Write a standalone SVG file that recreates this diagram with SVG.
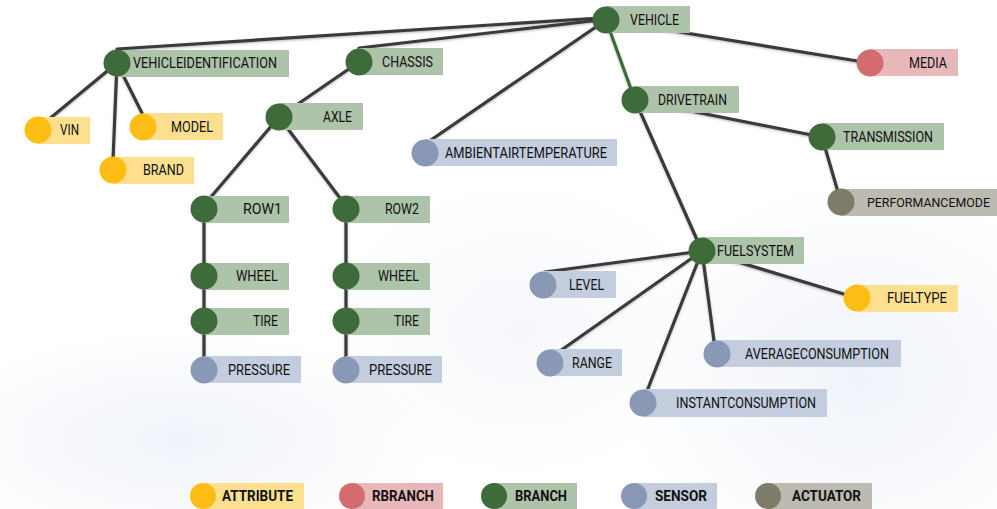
<svg xmlns="http://www.w3.org/2000/svg" width="997" height="509" viewBox="0 0 997 509">
<defs>
<radialGradient id="bg1" cx="0.5" cy="0.5" r="0.5">
<stop offset="0" stop-color="#eef2f9" stop-opacity="0.9"/>
<stop offset="1" stop-color="#eef2f9" stop-opacity="0"/>
</radialGradient>
<filter id="sh" x="-5%" y="-5%" width="110%" height="110%">
<feDropShadow dx="0" dy="1.2" stdDeviation="0.9" flood-color="#000" flood-opacity="0.25"/>
</filter>
<style>
.e{stroke:#3a3a3a;stroke-width:3.2;fill:none;stroke-linecap:round}
.eg{stroke:#3d6b3a;stroke-width:3.2;fill:none;stroke-linecap:round}
.t{font-family:Roboto,"Liberation Sans",sans-serif;font-size:14px;fill:#111}
.lt{font-family:Roboto,"Liberation Sans",sans-serif;font-size:14px;font-weight:bold;fill:#111}
.br circle{fill:#3d6b3a}.br rect{fill:#adc3aa}
.at circle{fill:#fdbd14}.at rect{fill:#fde08f}
.rb circle{fill:#d36c6e}.rb rect{fill:#e8b7b9}
.se circle{fill:#8898b5}.se rect{fill:#c3cddd}
.ac circle{fill:#7e7b69}.ac rect{fill:#bdbbb1}
</style>
</defs>
<rect width="997" height="509" fill="#ffffff"/>
<ellipse cx="180" cy="440" rx="260" ry="110" fill="url(#bg1)"/>
<ellipse cx="860" cy="380" rx="240" ry="200" fill="url(#bg1)"/>
<ellipse cx="520" cy="330" rx="200" ry="150" fill="url(#bg1)" opacity="0.6"/>

<g id="connectors" filter="url(#sh)">
<line class="e" x1="600" y1="18" x2="117" y2="49"/>
<line class="e" x1="600" y1="20" x2="359" y2="48"/>
<line class="e" x1="606" y1="20" x2="428" y2="142"/>
<line class="e" x1="606" y1="20" x2="870" y2="63"/>
<line class="eg" x1="606" y1="20" x2="635" y2="100"/>
<line class="e" x1="117" y1="63" x2="48" y2="120"/>
<line class="e" x1="117" y1="63" x2="113" y2="160"/>
<line class="e" x1="117" y1="63" x2="143" y2="115"/>
<line class="e" x1="359" y1="62" x2="279" y2="117"/>
<line class="e" x1="279" y1="117" x2="210" y2="198"/>
<line class="e" x1="279" y1="117" x2="340" y2="198"/>
<line class="e" x1="204" y1="209" x2="204" y2="370"/>
<line class="e" x1="346" y1="209" x2="346" y2="370"/>
<line class="e" x1="635" y1="100" x2="822" y2="137"/>
<line class="e" x1="635" y1="100" x2="702" y2="251"/>
<line class="e" x1="822" y1="137" x2="838" y2="192"/>
<line class="e" x1="702" y1="251" x2="545" y2="272"/>
<line class="e" x1="702" y1="251" x2="560" y2="351"/>
<line class="e" x1="702" y1="251" x2="647" y2="391"/>
<line class="e" x1="702" y1="251" x2="714" y2="341"/>
<line class="e" x1="702" y1="251" x2="857" y2="298"/>
</g>

<g id="n-vehicle" class="br"><rect x="606" y="6" width="84" height="27"/><circle cx="606" cy="20" r="13.5"/><text class="t" x="630" y="25" textLength="49" lengthAdjust="spacingAndGlyphs">VEHICLE</text></g>
<g id="n-vehicleidentification" class="br"><rect x="117" y="50" width="172" height="27"/><circle cx="117" cy="63" r="13.5"/><text class="t" x="133" y="68" textLength="144" lengthAdjust="spacingAndGlyphs">VEHICLEIDENTIFICATION</text></g>
<g id="n-chassis" class="br"><rect x="359" y="48" width="84" height="27"/><circle cx="359" cy="62" r="13.5"/><text class="t" x="382" y="67" textLength="51" lengthAdjust="spacingAndGlyphs">CHASSIS</text></g>
<g id="n-axle" class="br"><rect x="279" y="103" width="84" height="27"/><circle cx="279" cy="117" r="13.5"/><text class="t" x="323" y="122" textLength="29" lengthAdjust="spacingAndGlyphs">AXLE</text></g>
<g id="n-row1" class="br"><rect x="204" y="196" width="85" height="27"/><circle cx="204" cy="209" r="13.5"/><text class="t" x="243" y="214" textLength="39" lengthAdjust="spacingAndGlyphs">ROW1</text></g>
<g id="n-wheel1" class="br"><rect x="204" y="263" width="85" height="27"/><circle cx="204" cy="276" r="13.5"/><text class="t" x="236" y="281" textLength="42" lengthAdjust="spacingAndGlyphs">WHEEL</text></g>
<g id="n-tire1" class="br"><rect x="204" y="308" width="85" height="27"/><circle cx="204" cy="321" r="13.5"/><text class="t" x="253" y="326" textLength="25" lengthAdjust="spacingAndGlyphs">TIRE</text></g>
<g id="n-pressure1" class="se"><rect x="204" y="356" width="97" height="27"/><circle cx="204" cy="370" r="13.5"/><text class="t" x="228" y="375" textLength="62" lengthAdjust="spacingAndGlyphs">PRESSURE</text></g>
<g id="n-row2" class="br"><rect x="346" y="196" width="84" height="27"/><circle cx="346" cy="209" r="13.5"/><text class="t" x="385" y="214" textLength="34" lengthAdjust="spacingAndGlyphs">ROW2</text></g>
<g id="n-wheel2" class="br"><rect x="346" y="263" width="84" height="27"/><circle cx="346" cy="276" r="13.5"/><text class="t" x="378" y="281" textLength="41" lengthAdjust="spacingAndGlyphs">WHEEL</text></g>
<g id="n-tire2" class="br"><rect x="346" y="308" width="84" height="27"/><circle cx="346" cy="321" r="13.5"/><text class="t" x="394" y="326" textLength="25" lengthAdjust="spacingAndGlyphs">TIRE</text></g>
<g id="n-pressure2" class="se"><rect x="346" y="356" width="96" height="27"/><circle cx="346" cy="370" r="13.5"/><text class="t" x="369" y="375" textLength="63" lengthAdjust="spacingAndGlyphs">PRESSURE</text></g>
<g id="n-vin" class="at"><rect x="38" y="117" width="52" height="27"/><circle cx="38" cy="130" r="13.5"/><text class="t" x="60" y="135" textLength="19" lengthAdjust="spacingAndGlyphs">VIN</text></g>
<g id="n-model" class="at"><rect x="143" y="113" width="80" height="27"/><circle cx="143" cy="127" r="13.5"/><text class="t" x="171" y="132" textLength="42" lengthAdjust="spacingAndGlyphs">MODEL</text></g>
<g id="n-brand" class="at"><rect x="113" y="157" width="81" height="27"/><circle cx="113" cy="170" r="13.5"/><text class="t" x="143" y="175" textLength="41" lengthAdjust="spacingAndGlyphs">BRAND</text></g>
<g id="n-ambientairtemperature" class="se"><rect x="425" y="139" width="192" height="27"/><circle cx="425" cy="153" r="13.5"/><text class="t" x="445" y="158" textLength="162" lengthAdjust="spacingAndGlyphs">AMBIENTAIRTEMPERATURE</text></g>
<g id="n-media" class="rb"><rect x="870" y="49" width="88" height="27"/><circle cx="870" cy="63" r="13.5"/><text class="t" x="909" y="68" textLength="38" lengthAdjust="spacingAndGlyphs">MEDIA</text></g>
<g id="n-drivetrain" class="br"><rect x="635" y="86" width="104" height="27"/><circle cx="635" cy="100" r="13.5"/><text class="t" x="658" y="105" textLength="69" lengthAdjust="spacingAndGlyphs">DRIVETRAIN</text></g>
<g id="n-transmission" class="br"><rect x="822" y="123" width="122" height="27"/><circle cx="822" cy="137" r="13.5"/><text class="t" x="843" y="142" textLength="90" lengthAdjust="spacingAndGlyphs">TRANSMISSION</text></g>
<g id="n-performancemode" class="ac"><rect x="841" y="189" width="156" height="27"/><circle cx="841" cy="202" r="13.5"/><text class="t" x="867" y="207" style="font-size:12.2px" textLength="123" lengthAdjust="spacingAndGlyphs">PERFORMANCEMODE</text></g>
<g id="n-fuelsystem" class="br"><rect x="702" y="237" width="102" height="27"/><circle cx="702" cy="251" r="13.5"/><text class="t" x="717" y="256" textLength="77" lengthAdjust="spacingAndGlyphs">FUELSYSTEM</text></g>
<g id="n-level" class="se"><rect x="543" y="271" width="73" height="27"/><circle cx="543" cy="285" r="13.5"/><text class="t" x="569" y="290" textLength="35" lengthAdjust="spacingAndGlyphs">LEVEL</text></g>
<g id="n-fueltype" class="at"><rect x="857" y="285" width="101" height="27"/><circle cx="857" cy="298" r="13.5"/><text class="t" x="887" y="303" textLength="60" lengthAdjust="spacingAndGlyphs">FUELTYPE</text></g>
<g id="n-range" class="se"><rect x="550" y="349" width="72" height="27"/><circle cx="550" cy="363" r="13.5"/><text class="t" x="572" y="368" textLength="40" lengthAdjust="spacingAndGlyphs">RANGE</text></g>
<g id="n-averageconsumption" class="se"><rect x="717" y="340" width="184" height="27"/><circle cx="717" cy="354" r="13.5"/><text class="t" x="745" y="359" textLength="144" lengthAdjust="spacingAndGlyphs">AVERAGECONSUMPTION</text></g>
<g id="n-instantconsumption" class="se"><rect x="643" y="389" width="184" height="28"/><circle cx="643" cy="403" r="13.5"/><text class="t" x="676" y="408" textLength="140" lengthAdjust="spacingAndGlyphs">INSTANTCONSUMPTION</text></g>

<g id="legend">
<g id="l-attribute" class="at"><rect x="203" y="483" width="101" height="26"/><circle cx="203" cy="496" r="13"/><text class="lt" x="222" y="501" textLength="71" lengthAdjust="spacingAndGlyphs">ATTRIBUTE</text></g>
<g id="l-rbranch" class="rb"><rect x="352" y="483" width="91" height="26"/><circle cx="352" cy="496" r="13"/><text class="lt" x="372" y="501" textLength="62" lengthAdjust="spacingAndGlyphs">RBRANCH</text></g>
<g id="l-branch" class="br"><rect x="494" y="483" width="83" height="26"/><circle cx="494" cy="496" r="13"/><text class="lt" x="515" y="501" textLength="52" lengthAdjust="spacingAndGlyphs">BRANCH</text></g>
<g id="l-sensor" class="se"><rect x="634" y="483" width="83" height="26"/><circle cx="634" cy="496" r="13"/><text class="lt" x="655" y="501" textLength="52" lengthAdjust="spacingAndGlyphs">SENSOR</text></g>
<g id="l-actuator" class="ac"><rect x="768" y="483" width="104" height="26"/><circle cx="768" cy="496" r="13"/><text class="lt" x="792" y="501" textLength="69" lengthAdjust="spacingAndGlyphs">ACTUATOR</text></g>
</g>
</svg>
